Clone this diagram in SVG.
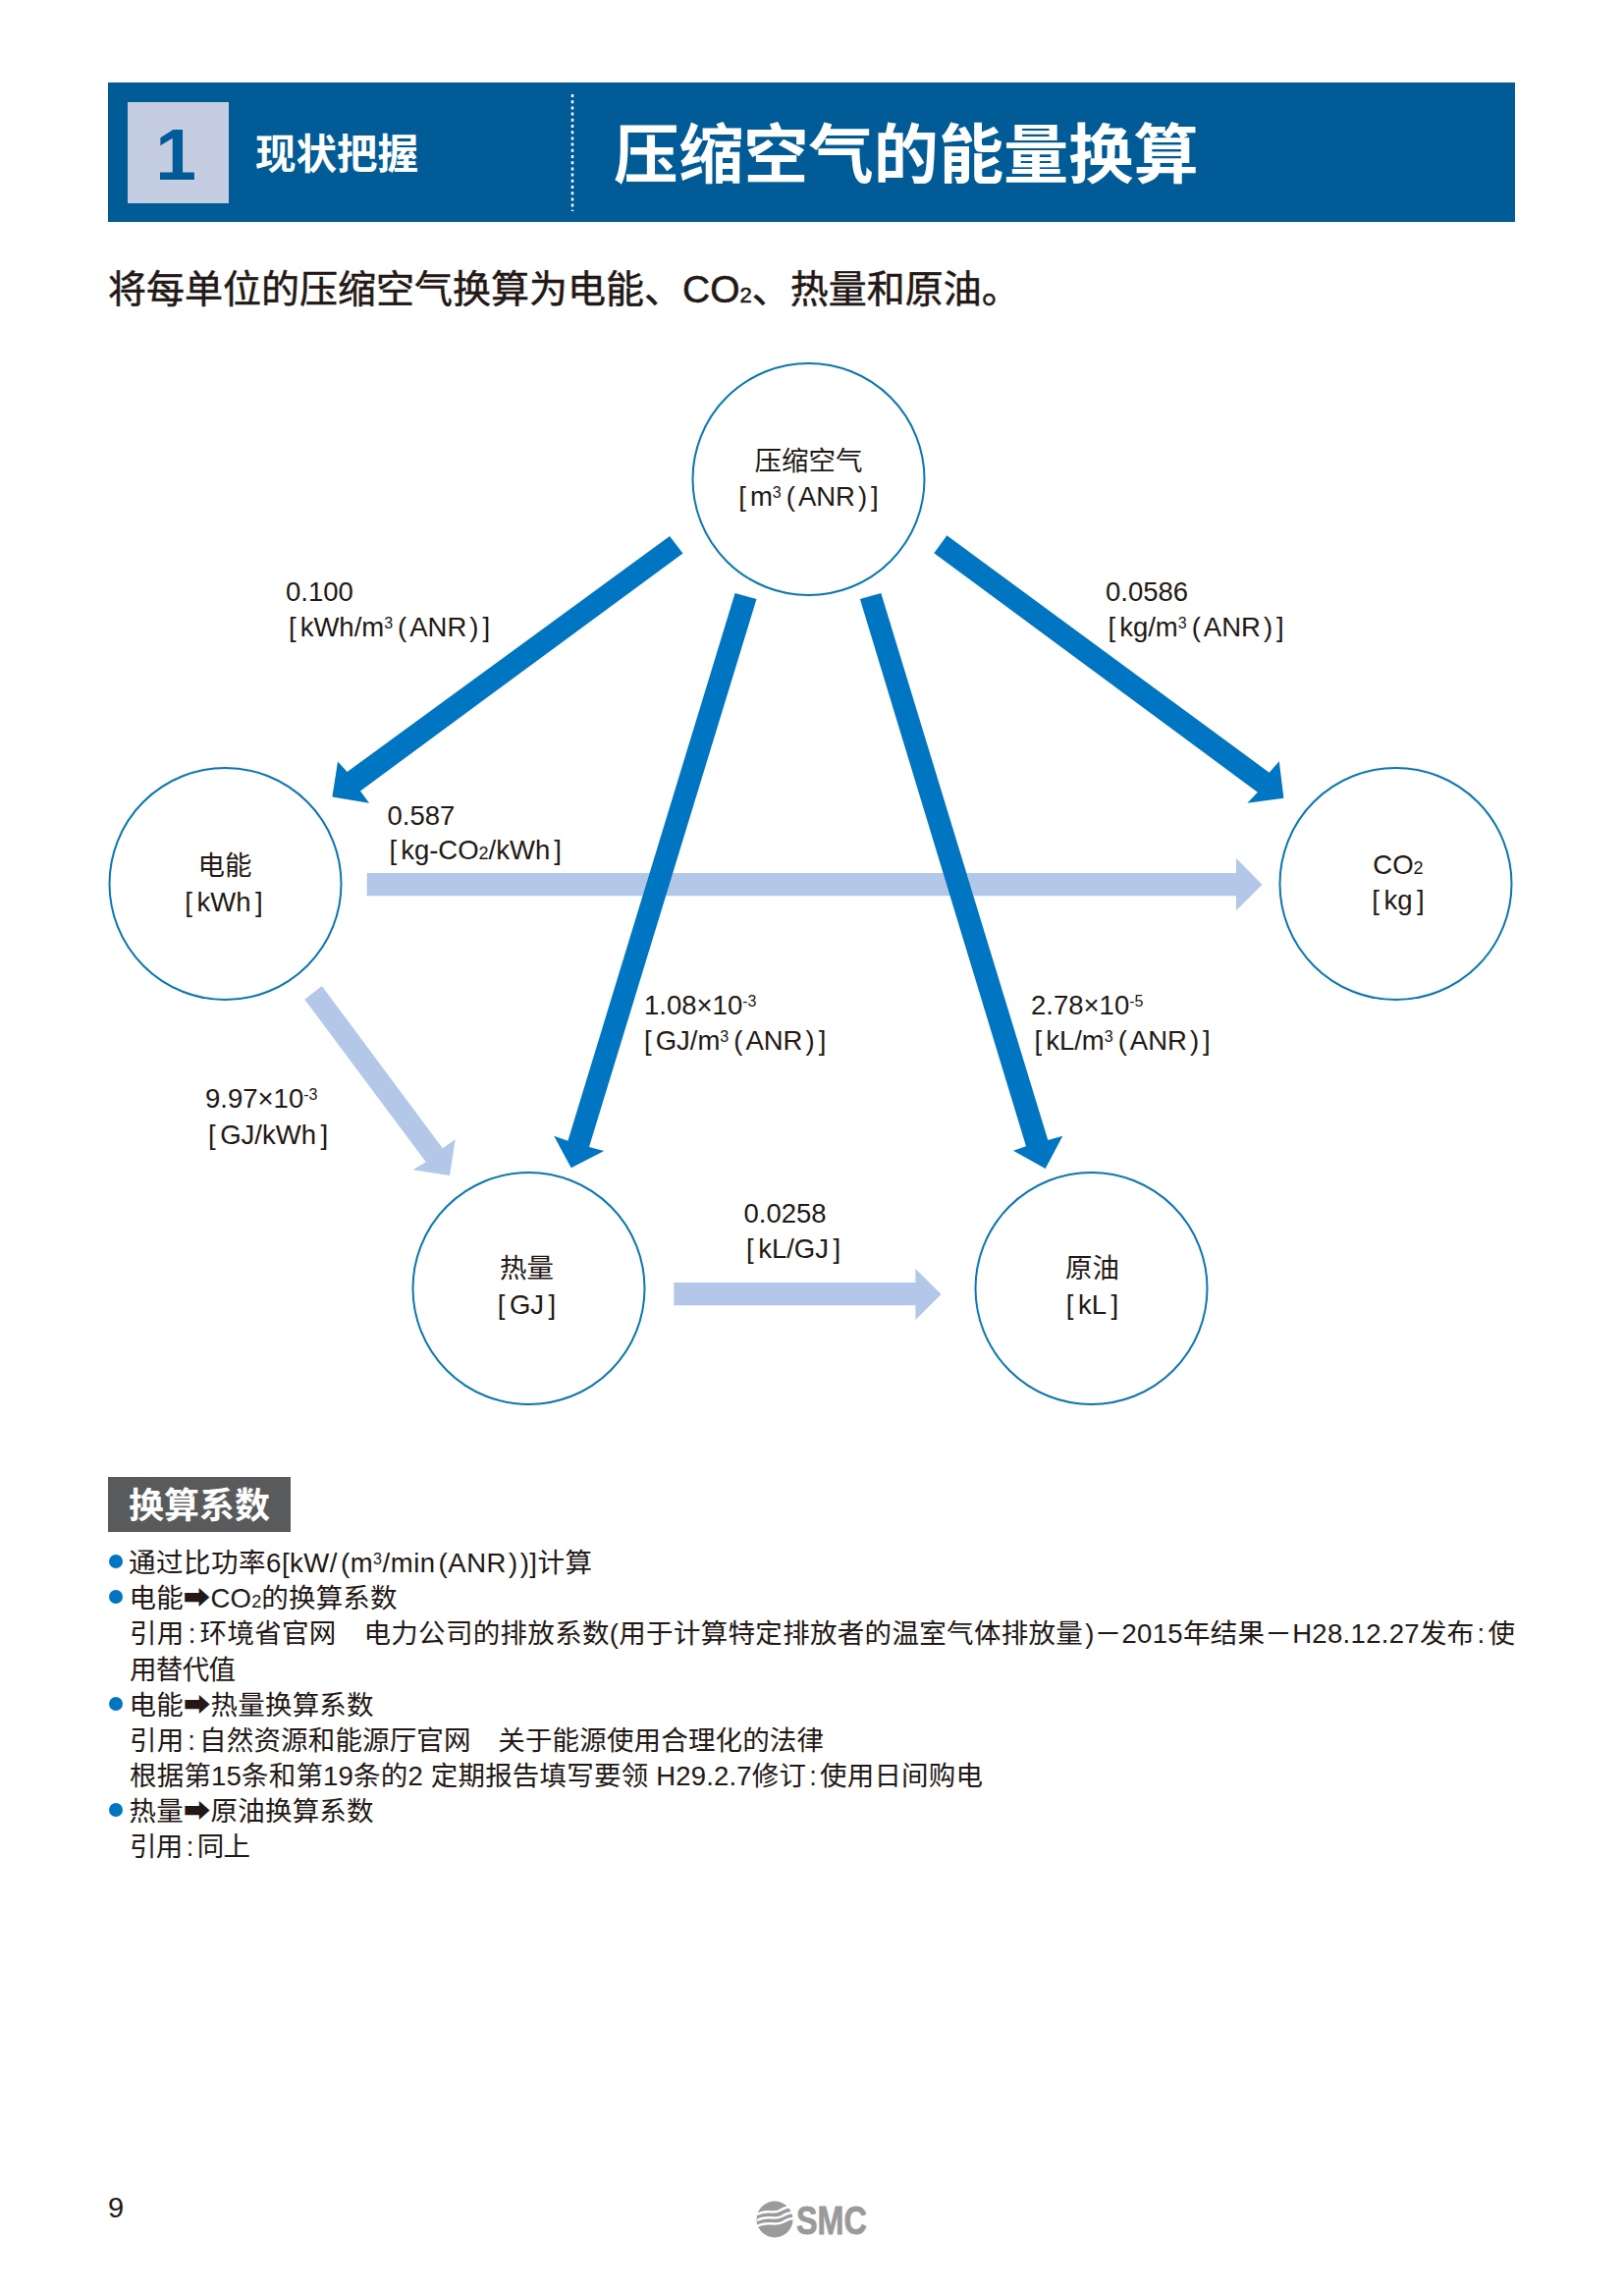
<svg xmlns="http://www.w3.org/2000/svg" width="1654" height="2337" viewBox="0 0 1654 2337">
<style>
text{font-family:"Liberation Sans","Noto Sans CJK SC","DejaVu Sans",sans-serif;fill:#231815;font-size:27.5px}
.c{text-anchor:middle}
.b{font-size:27.5px}
.w{fill:#fff;font-weight:700}
.sup{font-size:16px;baseline-shift:8px}
.sub{font-size:18px}
.node{fill:#fff;stroke:#0b76b5;stroke-width:2}
.dark{fill:#0075c2}
.light{fill:#b3c8e8}
.dot{fill:#0075c2}
</style>
<rect width="1654" height="2337" fill="#fff"/>
<g id="header">
<rect x="110" y="84" width="1433" height="142" fill="#005b97"/>
<rect x="130" y="104" width="103" height="103" fill="#c5cde3"/>
<text x="179" y="183" class="c" style="font-size:75px;font-weight:700;fill:#005b97">1</text>
<text x="260" y="171.5" class="w" style="font-size:41.5px">现状把握</text>
<line x1="583" y1="96" x2="583" y2="215" stroke="#fff" stroke-width="2.5" stroke-dasharray="3 3.2"/>
<text x="625" y="180.5" class="w" style="font-size:66.2px">压缩空气的能量换算</text>
</g>
<text x="110" y="307.5" style="font-size:39px;stroke:#231815;stroke-width:0.5">将每单位的压缩空气换算为电能、CO<tspan style="font-size:22px">2</tspan>、热量和原油。</text>
<g id="connectors">
<polygon class="light" points="373.7,889 1259,889 1259,874 1285.5,900.7 1259,927.3 1259,912.3 373.7,912.3"/>
<polygon class="light" points="327.8,1004 450.8,1169.3 463.7,1160.3 458,1197 420.5,1191.3 433.8,1183.3 310.3,1017.7"/>
<polygon class="light" points="686.3,1306 932.4,1306 932.4,1292 958.6,1318 932.4,1344 932.4,1329.3 686.3,1329.3"/>
<polygon class="dark" points="682,546 695.5,563.5 367,805.4 376,817.7 338.4,811.5 344,775.6 353.6,786"/>
<polygon class="dark" points="964.4,545.3 951.3,563.3 1280.9,806.7 1270.4,817.7 1307.4,812.7 1302.8,775.3 1292.7,786.7"/>
<polygon class="dark" points="748.6,604 770.5,610 600,1168 615.2,1172 581.7,1189.3 564.2,1156.7 578.4,1161.7"/>
<polygon class="dark" points="875.9,610 897.3,604 1067.3,1161 1082.3,1156.7 1064.7,1190 1032,1171.7 1045,1167.3"/>
</g>
<g id="node-air">
<circle class="node" cx="823.5" cy="488" r="118"/>
<text x="823.5" y="479" class="c">压缩空气</text>
<text x="823.5" y="515" class="c">[<tspan dx="4">m</tspan><tspan class="sup">3</tspan><tspan dx="5">(</tspan><tspan dx="3">ANR</tspan><tspan dx="3">)</tspan><tspan dx="4">]</tspan></text>
</g>
<g id="node-electric">
<circle class="node" cx="229.5" cy="900" r="118"/>
<text x="229" y="891" class="c">电能</text>
<text x="228" y="927.5" class="c">[<tspan dx="4.5">kWh</tspan><tspan dx="4.5">]</tspan></text>
</g>
<g id="node-co2">
<circle class="node" cx="1421.5" cy="900" r="118"/>
<text x="1424" y="890" class="c">CO<tspan class="sub">2</tspan></text>
<text x="1424" y="925.5" class="c">[<tspan dx="4.5">kg</tspan><tspan dx="4.5">]</tspan></text>
</g>
<g id="node-heat">
<circle class="node" cx="538.5" cy="1312" r="118"/>
<text x="536.5" y="1301" class="c">热量</text>
<text x="536.5" y="1337.5" class="c">[<tspan dx="4.5">GJ</tspan><tspan dx="4.5">]</tspan></text>
</g>
<g id="node-oil">
<circle class="node" cx="1111.5" cy="1312" r="118"/>
<text x="1112.5" y="1301" class="c">原油</text>
<text x="1112.5" y="1337.5" class="c">[<tspan dx="4.5">kL</tspan><tspan dx="4.5">]</tspan></text>
</g>
<g id="edge-labels">
<text x="291" y="612">0.100</text>
<text x="294" y="648">[<tspan dx="4">kWh/m</tspan><tspan class="sup">3</tspan><tspan dx="5">(</tspan><tspan dx="3">ANR</tspan><tspan dx="3">)</tspan><tspan dx="4">]</tspan></text>
<text x="394.5" y="839.5">0.587</text>
<text x="396.5" y="875">[<tspan dx="4">kg-CO</tspan><tspan class="sub">2</tspan>/kWh<tspan dx="4">]</tspan></text>
<text x="1126" y="612">0.0586</text>
<text x="1128.5" y="648">[<tspan dx="4">kg/m</tspan><tspan class="sup">3</tspan><tspan dx="5">(</tspan><tspan dx="3">ANR</tspan><tspan dx="3">)</tspan><tspan dx="4">]</tspan></text>
<text x="656" y="1033">1.08×10<tspan class="sup">-3</tspan></text>
<text x="656" y="1068.5">[<tspan dx="4">GJ/m</tspan><tspan class="sup">3</tspan><tspan dx="5">(</tspan><tspan dx="3">ANR</tspan><tspan dx="3">)</tspan><tspan dx="4">]</tspan></text>
<text x="1050" y="1033">2.78×10<tspan class="sup">-5</tspan></text>
<text x="1053.5" y="1068.5">[<tspan dx="4">kL/m</tspan><tspan class="sup">3</tspan><tspan dx="5">(</tspan><tspan dx="3">ANR</tspan><tspan dx="3">)</tspan><tspan dx="4">]</tspan></text>
<text x="209" y="1128">9.97×10<tspan class="sup">-3</tspan></text>
<text x="212" y="1164.5">[<tspan dx="4.5">GJ/kWh</tspan><tspan dx="4.5">]</tspan></text>
<text x="757.5" y="1245">0.0258</text>
<text x="760" y="1281">[<tspan dx="4.5">kL/GJ</tspan><tspan dx="4.5">]</tspan></text>
</g>
<g id="notes">
<rect x="110" y="1504" width="186" height="56" fill="#595a5c"/>
<text x="131" y="1546" class="w" style="font-size:36px">换算系数</text>
<circle class="dot" cx="118" cy="1590" r="7"/>
<circle class="dot" cx="118" cy="1626" r="7"/>
<circle class="dot" cx="118" cy="1735" r="7"/>
<circle class="dot" cx="118" cy="1843" r="7"/>
<text x="131" y="1601" class="b" textLength="472">通过比功率6[kW/<tspan dx="3">(</tspan>m<tspan class="sup">3</tspan>/min<tspan dx="3">(</tspan>ANR<tspan dx="2">)</tspan><tspan dx="2">)</tspan>]计算</text>
<text x="131.5" y="1637" class="b" textLength="273">电能➡CO<tspan class="sub">2</tspan>的换算系数</text>
<text x="132" y="1673" class="b" textLength="1411">引用<tspan dx="4">:</tspan><tspan dx="4">环境省官网　电力公司的排放系数</tspan>(用于计算特定排放者的温室气体排放量<tspan dx="2">)</tspan>－2015年结果－H28.12.27发布<tspan dx="3">:</tspan><tspan dx="3">使</tspan></text>
<text x="132" y="1709.5" class="b" textLength="108">用替代值</text>
<text x="131.5" y="1745.5" class="b" textLength="249">电能➡热量换算系数</text>
<text x="132" y="1782" class="b" textLength="707">引用<tspan dx="4">:</tspan><tspan dx="4">自然资源和能源厅官网　关于能源使用合理化的法律</tspan></text>
<text x="132" y="1818" class="b" textLength="869">根据第15条和第19条的2 定期报告填写要领 H29.2.7修订<tspan dx="3">:</tspan><tspan dx="3">使用日间购电</tspan></text>
<text x="131.5" y="1854" class="b" textLength="249">热量➡原油换算系数</text>
<text x="132" y="1890" class="b" textLength="123">引用<tspan dx="4">:</tspan><tspan dx="4">同上</tspan></text>
</g>
<text x="110" y="2258" style="font-size:29px">9</text>
<g id="logo">
<circle cx="789" cy="2260" r="18.5" fill="#9a9a9a"/>
<path d="M771 2255C781 2249 787 2255 794 2251C799 2248 802 2247 807 2247M771 2261C781 2255 788 2261 796 2257C801 2254 804 2253 808 2253M771 2267C781 2261 789 2267 797 2263C802 2260 805 2259 808 2259" fill="none" stroke="#fff" stroke-width="2.5"/>
<text x="811" y="2275" textLength="72" lengthAdjust="spacingAndGlyphs" style="font-size:40px;font-weight:700;fill:#9a9a9a;stroke:#9a9a9a;stroke-width:0.8">SMC</text>
</g>
</svg>
